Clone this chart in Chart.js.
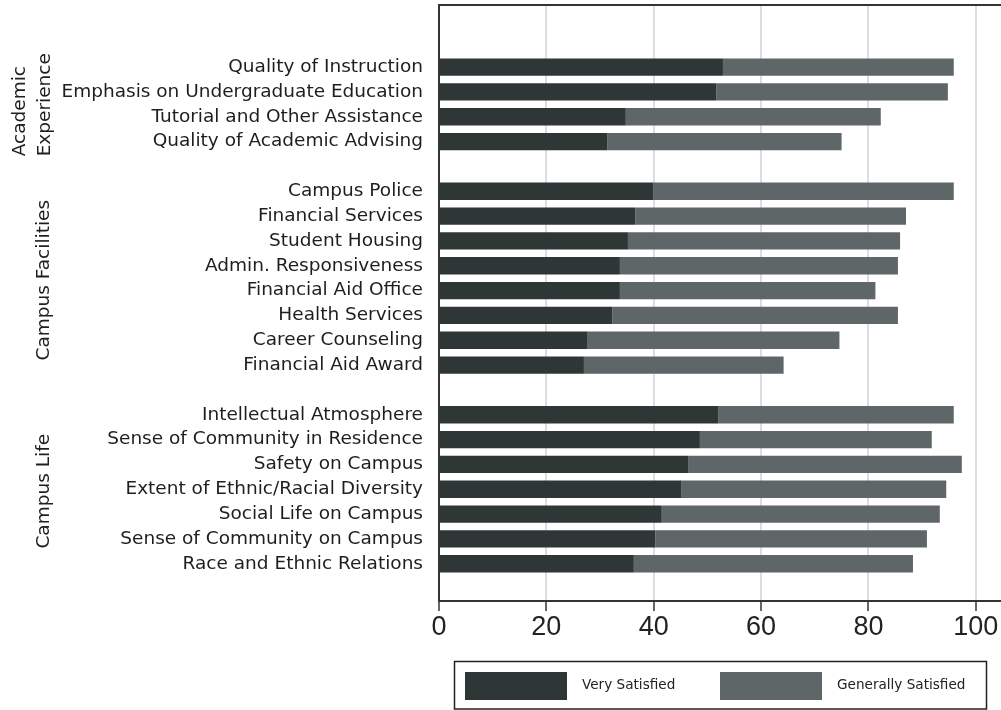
<!DOCTYPE html>
<html>
<head>
<meta charset="utf-8">
<script src="https://cdn.jsdelivr.net/npm/chart.js@4.4.1/dist/chart.umd.min.js"></script>
<style>
  body { margin: 0; background: #fff; }
  #wrap { width: 1001px; height: 710px; }
</style>
</head>
<body>
<div id="wrap"><canvas id="satisfaction-chart" width="1001" height="710"></canvas></div>
<script>
// categories, top to bottom, one array per group
const academicLabels = ['Quality of Instruction', 'Emphasis on Undergraduate Education', 'Tutorial and Other Assistance', 'Quality of Academic Advising'];
const facilitiesLabels = ['Campus Police', 'Financial Services', 'Student Housing', 'Admin. Responsiveness', 'Financial Aid Office', 'Health Services', 'Career Counseling', 'Financial Aid Award'];
const lifeLabels = ['Intellectual Atmosphere', 'Sense of Community in Residence', 'Safety on Campus', 'Extent of Ethnic/Racial Diversity', 'Social Life on Campus', 'Sense of Community on Campus', 'Race and Ethnic Relations'];

// percent "very satisfied" and "generally satisfied"
const academicVery = [52.9, 51.7, 34.8, 31.4];
const academicGeneral = [43.0, 43.1, 47.5, 43.6];
const facilitiesVery = [39.9, 36.6, 35.2, 33.7, 33.7, 32.3, 27.7, 27.0];
const facilitiesGeneral = [56.0, 50.4, 50.7, 51.8, 47.6, 53.2, 46.9, 37.2];
const lifeVery = [52.0, 48.6, 46.4, 45.2, 41.5, 40.3, 36.3];
const lifeGeneral = [43.9, 43.2, 51.0, 49.3, 51.8, 50.6, 52.0];

const groupTitles = [['Academic', 'Experience'], ['Campus Facilities'], ['Campus Life']];
const seriesNames = ['Very Satisfied', 'Generally Satisfied'];
const xTicks = [0, 20, 40, 60, 80, 100];

const darkColor = '#2f3736';
const greyColor = '#5f6668';

// one blank row between the groups
const groups = [
  [academicLabels, academicVery, academicGeneral],
  [facilitiesLabels, facilitiesVery, facilitiesGeneral],
  [lifeLabels, lifeVery, lifeGeneral]
];
let labels = ['', ''];
let veryData = [null, null];
let generalData = [null, null];
let groupRanges = [];
groups.forEach((g, gi) => {
  if (gi > 0) { labels.push(''); veryData.push(null); generalData.push(null); }
  const start = labels.length;
  labels = labels.concat(g[0]);
  veryData = veryData.concat(g[1]);
  generalData = generalData.concat(g[2]);
  groupRanges.push([start, labels.length - 1]);
});
labels.push(''); veryData.push(null); generalData.push(null);

const textFont = 'DejaVu Sans';

const groupTitlePlugin = {
  id: 'groupTitles',
  afterDraw(chart) {
    const ctx = chart.ctx;
    const y = chart.scales.y;
    ctx.save();
    ctx.fillStyle = '#1e1e1e';
    ctx.font = '18.5px "' + textFont + '"';
    groupRanges.forEach((r, i) => {
      const mid = (y.getPixelForValue(r[0]) + y.getPixelForValue(r[1])) / 2;
      const lines = groupTitles[i];
      if (lines.length === 2) {
        [[lines[0], 25], [lines[1], 50]].forEach(([t, bx]) => {
          ctx.save();
          ctx.translate(bx, mid + 52);
          ctx.rotate(-Math.PI / 2);
          ctx.textAlign = 'left';
          ctx.fillText(t, 0, 0);
          ctx.restore();
        });
      } else {
        ctx.save();
        ctx.translate(49, mid + 2);
        ctx.rotate(-Math.PI / 2);
        ctx.textAlign = 'center';
        ctx.fillText(lines[0], 0, 0);
        ctx.restore();
      }
    });
    // top edge of the plot frame
    const a = chart.chartArea;
    ctx.strokeStyle = '#333';
    ctx.lineWidth = 2;
    ctx.beginPath();
    ctx.moveTo(a.left, a.top);
    ctx.lineTo(a.right, a.top);
    ctx.stroke();
    ctx.restore();
  }
};

const boxLegendPlugin = {
  id: 'boxLegend',
  afterDraw(chart) {
    const ctx = chart.ctx;
    ctx.save();
    ctx.strokeStyle = '#222';
    ctx.lineWidth = 1.5;
    ctx.strokeRect(454.5, 661.5, 532, 47.5);
    const colors = [darkColor, greyColor];
    const starts = [465, 720];
    ctx.font = '13.6px "' + textFont + '"';
    ctx.textBaseline = 'middle';
    seriesNames.forEach((name, i) => {
      ctx.fillStyle = colors[i];
      ctx.fillRect(starts[i], 672, 102, 28);
      ctx.fillStyle = '#222';
      ctx.fillText(name, starts[i] + 117, 685);
    });
    ctx.restore();
  }
};

new Chart(document.getElementById('satisfaction-chart'), {
  type: 'bar',
  data: {
    labels: labels,
    datasets: [{
      label: seriesNames[0],
      data: veryData,
      backgroundColor: darkColor,
      barPercentage: 0.7,
      categoryPercentage: 1
    }, {
      label: seriesNames[1],
      data: generalData,
      backgroundColor: greyColor,
      barPercentage: 0.7,
      categoryPercentage: 1
    }]
  },
  options: {
    indexAxis: 'y',
    responsive: false,
    animation: false,
    layout: { padding: { top: 5, left: 0, right: 0, bottom: 60 } },
    plugins: {
      legend: { display: false },
      tooltip: { enabled: false }
    },
    scales: {
      x: {
        stacked: true,
        min: 0,
        max: 104.7,
        afterBuildTicks: s => { s.ticks = xTicks.map(v => ({ value: v })); },
        grid: { color: '#dcdce2', lineWidth: 2, tickColor: '#333', tickWidth: 1.5, tickLength: 10 },
        border: { color: '#333', width: 2 },
        ticks: { font: { family: 'Liberation Sans', size: 27 }, color: '#222', padding: 0, maxRotation: 0 },
        afterFit: s => { s.height = 49; }
      },
      y: {
        stacked: true,
        grid: { display: false, drawTicks: false },
        border: { color: '#333', width: 2 },
        ticks: { font: { family: textFont, size: 18.5 }, color: '#1e1e1e', padding: 16, autoSkip: false },
        afterFit: s => { s.width = 439; s.paddingTop = 0; s.paddingBottom = 0; }
      }
    }
  },
  plugins: [groupTitlePlugin, boxLegendPlugin]
});
</script>
</body>
</html>
